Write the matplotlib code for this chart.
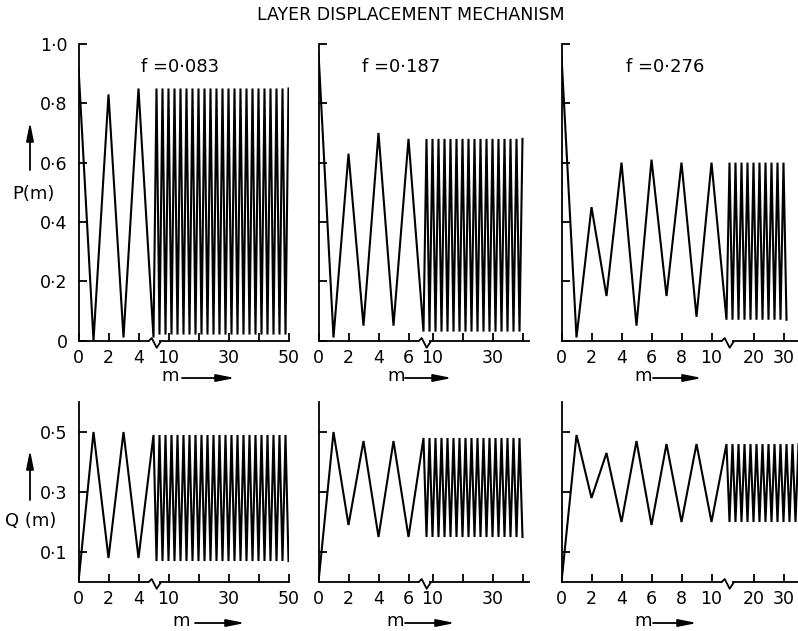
import numpy as np
import matplotlib.pyplot as plt
from matplotlib.patches import FancyArrowPatch
from matplotlib.path import Path
from matplotlib.transforms import blended_transform_factory

W, H = 798, 631

# ---- data ----
f_labels = ["f =0·083", "f =0·187", "f =0·276"]
breaks = [5, 7, 11]          # m where the x axis switches to the compressed scale
x_max = [50, 42, 36]

m_a = list(range(0, 51))
m_b = list(range(0, 41))
m_c = list(range(0, 32))
m_c_q = list(range(0, 36))

# P(m), top row
p_a = [0.92, 0.00, 0.83, 0.01, 0.85, 0.01,
       0.85, 0.02, 0.85, 0.02, 0.85, 0.02, 0.85, 0.02, 0.85, 0.02,
       0.85, 0.02, 0.85, 0.02, 0.85, 0.02, 0.85, 0.02, 0.85, 0.02,
       0.85, 0.02, 0.85, 0.02, 0.85, 0.02, 0.85, 0.02, 0.85, 0.02,
       0.85, 0.02, 0.85, 0.02, 0.85, 0.02, 0.85, 0.02, 0.85, 0.02,
       0.85, 0.02, 0.85, 0.02, 0.85]
p_b = [0.97, 0.01, 0.63, 0.05, 0.70, 0.05, 0.68, 0.03,
       0.68, 0.03, 0.68, 0.03, 0.68, 0.03, 0.68, 0.03, 0.68, 0.03,
       0.68, 0.03, 0.68, 0.03, 0.68, 0.03, 0.68, 0.03, 0.68, 0.03,
       0.68, 0.03, 0.68, 0.03, 0.68, 0.03, 0.68, 0.03, 0.68, 0.03,
       0.68, 0.03, 0.68]
p_c = [0.96, 0.01, 0.45, 0.15, 0.60, 0.05, 0.61, 0.15, 0.60, 0.08, 0.60, 0.07,
       0.60, 0.07, 0.60, 0.07, 0.60, 0.07, 0.60, 0.07, 0.60, 0.07,
       0.60, 0.07, 0.60, 0.07, 0.60, 0.07, 0.60, 0.07, 0.60, 0.07]

# Q(m), bottom row
q_a = [0.00, 0.50, 0.08, 0.50, 0.08, 0.49,
       0.07, 0.49, 0.07, 0.49, 0.07, 0.49, 0.07, 0.49, 0.07, 0.49,
       0.07, 0.49, 0.07, 0.49, 0.07, 0.49, 0.07, 0.49, 0.07, 0.49,
       0.07, 0.49, 0.07, 0.49, 0.07, 0.49, 0.07, 0.49, 0.07, 0.49,
       0.07, 0.49, 0.07, 0.49, 0.07, 0.49, 0.07, 0.49, 0.07, 0.49,
       0.07, 0.49, 0.07, 0.49, 0.07]
q_b = [0.00, 0.50, 0.19, 0.47, 0.15, 0.47, 0.15, 0.48,
       0.15, 0.48, 0.15, 0.48, 0.15, 0.48, 0.15, 0.48, 0.15, 0.48,
       0.15, 0.48, 0.15, 0.48, 0.15, 0.48, 0.15, 0.48, 0.15, 0.48,
       0.15, 0.48, 0.15, 0.48, 0.15, 0.48, 0.15, 0.48, 0.15, 0.48,
       0.15, 0.48, 0.15]
q_c = [0.00, 0.49, 0.28, 0.43, 0.20, 0.47, 0.19, 0.46, 0.20, 0.46, 0.20, 0.46,
       0.20, 0.46, 0.20, 0.46, 0.20, 0.46, 0.20, 0.46, 0.20, 0.46,
       0.20, 0.46, 0.20, 0.46, 0.20, 0.46, 0.20, 0.46, 0.20, 0.46,
       0.20, 0.46, 0.20, 0.46]

top_m = [m_a, m_b, m_c]
top_vals = [p_a, p_b, p_c]
bot_m = [m_a, m_b, m_c_q]
bot_vals = [q_a, q_b, q_c]

x_ticks = [[0, 2, 4, 10, 20, 30, 40, 50],
           [0, 2, 4, 6, 10, 20, 30, 40],
           [0, 2, 4, 6, 8, 10, 20, 30]]
x_ticklabels = [["0", "2", "4", "10", "", "30", "", "50"],
                ["0", "2", "4", "6", "10", "", "30", ""],
                ["0", "2", "4", "6", "8", "10", "20", "30"]]
p_ticks = [0, 0.2, 0.4, 0.6, 0.8, 1.0]
p_ticklabels = ["0", "0·2", "0·4", "0·6", "0·8", "1·0"]
q_ticks = [0.1, 0.3, 0.5]
q_ticklabels = ["0·1", "0·3", "0·5"]

plt.rcParams['font.family'] = ['DejaVu Sans']
LW = 1.3


def broken_scale(b, r=0.2):
    # linear up to b, then compressed by r
    def fwd(x):
        x = np.asarray(x, dtype=float)
        return np.where(x <= b, x, b + (x - b) * r)

    def inv(y):
        y = np.asarray(y, dtype=float)
        return np.where(y <= b, y, b + (y - b) / r)
    return fwd, inv


zig = Path([(-1, 0), (-0.45, 0.55), (0.35, -1.0), (1, 0)],
           [Path.MOVETO, Path.LINETO, Path.LINETO, Path.LINETO])


def px_rect(x0, y_bottom, w, h):
    return [x0 / W, 1 - y_bottom / H, w / W, h / H]


def style_axes(ax, col, b, xm, yticks, ylabels, ylim):
    ax.set_xscale('function', functions=broken_scale(b))
    ax.set_xlim(0, xm)
    ax.set_ylim(*ylim)
    for s in ['top', 'right']:
        ax.spines[s].set_visible(False)
    for s in ['left', 'bottom']:
        ax.spines[s].set_linewidth(LW)
    ax.set_xticks(x_ticks[col])
    ax.set_xticklabels(x_ticklabels[col])
    ax.xaxis.set_minor_locator(plt.NullLocator())
    ax.set_yticks(yticks)
    ax.set_yticklabels(ylabels if col == 0 else [])
    ax.tick_params(direction='in', length=6, width=LW, labelsize=12.5, pad=6)
    ax.tick_params(axis='y', pad=8)
    # break mark on the x axis
    tr = blended_transform_factory(ax.transData, ax.transAxes)
    ax.plot([b], [0], marker='_', markersize=7, mew=3, color='white',
            transform=tr, clip_on=False, zorder=5)
    ax.plot([b], [0], marker=zig, markersize=9, mew=1.3, mfc='none', color='k',
            transform=tr, clip_on=False, zorder=6)


fig = plt.figure(figsize=(W / 100, H / 100), dpi=100)

lefts = [78.5, 318.5, 561.5]
widths = [210, 210, 240]

for i in range(3):
    ax = fig.add_axes(px_rect(lefts[i], 340.5, widths[i], 296.5))
    ax.plot(top_m[i], top_vals[i], color='k', lw=1.5, solid_joinstyle='miter')
    style_axes(ax, i, breaks[i], x_max[i], p_ticks, p_ticklabels, (0, 1.0))

for i in range(3):
    ax = fig.add_axes(px_rect(lefts[i], 582, widths[i], 180))
    ax.plot(bot_m[i], bot_vals[i], color='k', lw=1.5, solid_joinstyle='miter')
    style_axes(ax, i, breaks[i], x_max[i], q_ticks, q_ticklabels, (0, 0.6))

# texts
fig.text(411 / W, 1 - 15 / H, "LAYER DISPLACEMENT MECHANISM", ha='center', va='center',
         fontsize=12.5)
f_x = [180, 401, 665]
for i in range(3):
    fig.text(f_x[i] / W, 1 - 67 / H, f_labels[i], ha='center', va='center', fontsize=13)

fig.text(33 / W, 1 - 194 / H, "P(m)", ha='center', va='center', fontsize=13)
fig.text(31 / W, 1 - 521 / H, "Q (m)", ha='center', va='center', fontsize=13)


def arrow(x0, y0, x1, y1):
    fig.add_artist(FancyArrowPatch(
        (x0 / W, 1 - y0 / H), (x1 / W, 1 - y1 / H), transform=fig.transFigure,
        arrowstyle='-|>,head_length=1.1,head_width=0.22', mutation_scale=10,
        lw=1.3, color='k', shrinkA=0, shrinkB=0))


arrow(30, 170, 30, 122)
arrow(30, 500, 30, 450)

m_top = [(170, 182, 235), (396, 405, 452), (643, 653, 702)]
m_bot = [(181, 195, 245), (395, 405, 455), (643, 653, 697)]
for (mx, a0, a1) in m_top:
    fig.text(mx / W, 1 - 381 / H, "m", ha='center', va='baseline', fontsize=13)
    arrow(a0, 378, a1, 378)
for (mx, a0, a1) in m_bot:
    fig.text(mx / W, 1 - 626 / H, "m", ha='center', va='baseline', fontsize=13)
    arrow(a0, 623, a1, 623)

fig.savefig("out.png", dpi=100)
